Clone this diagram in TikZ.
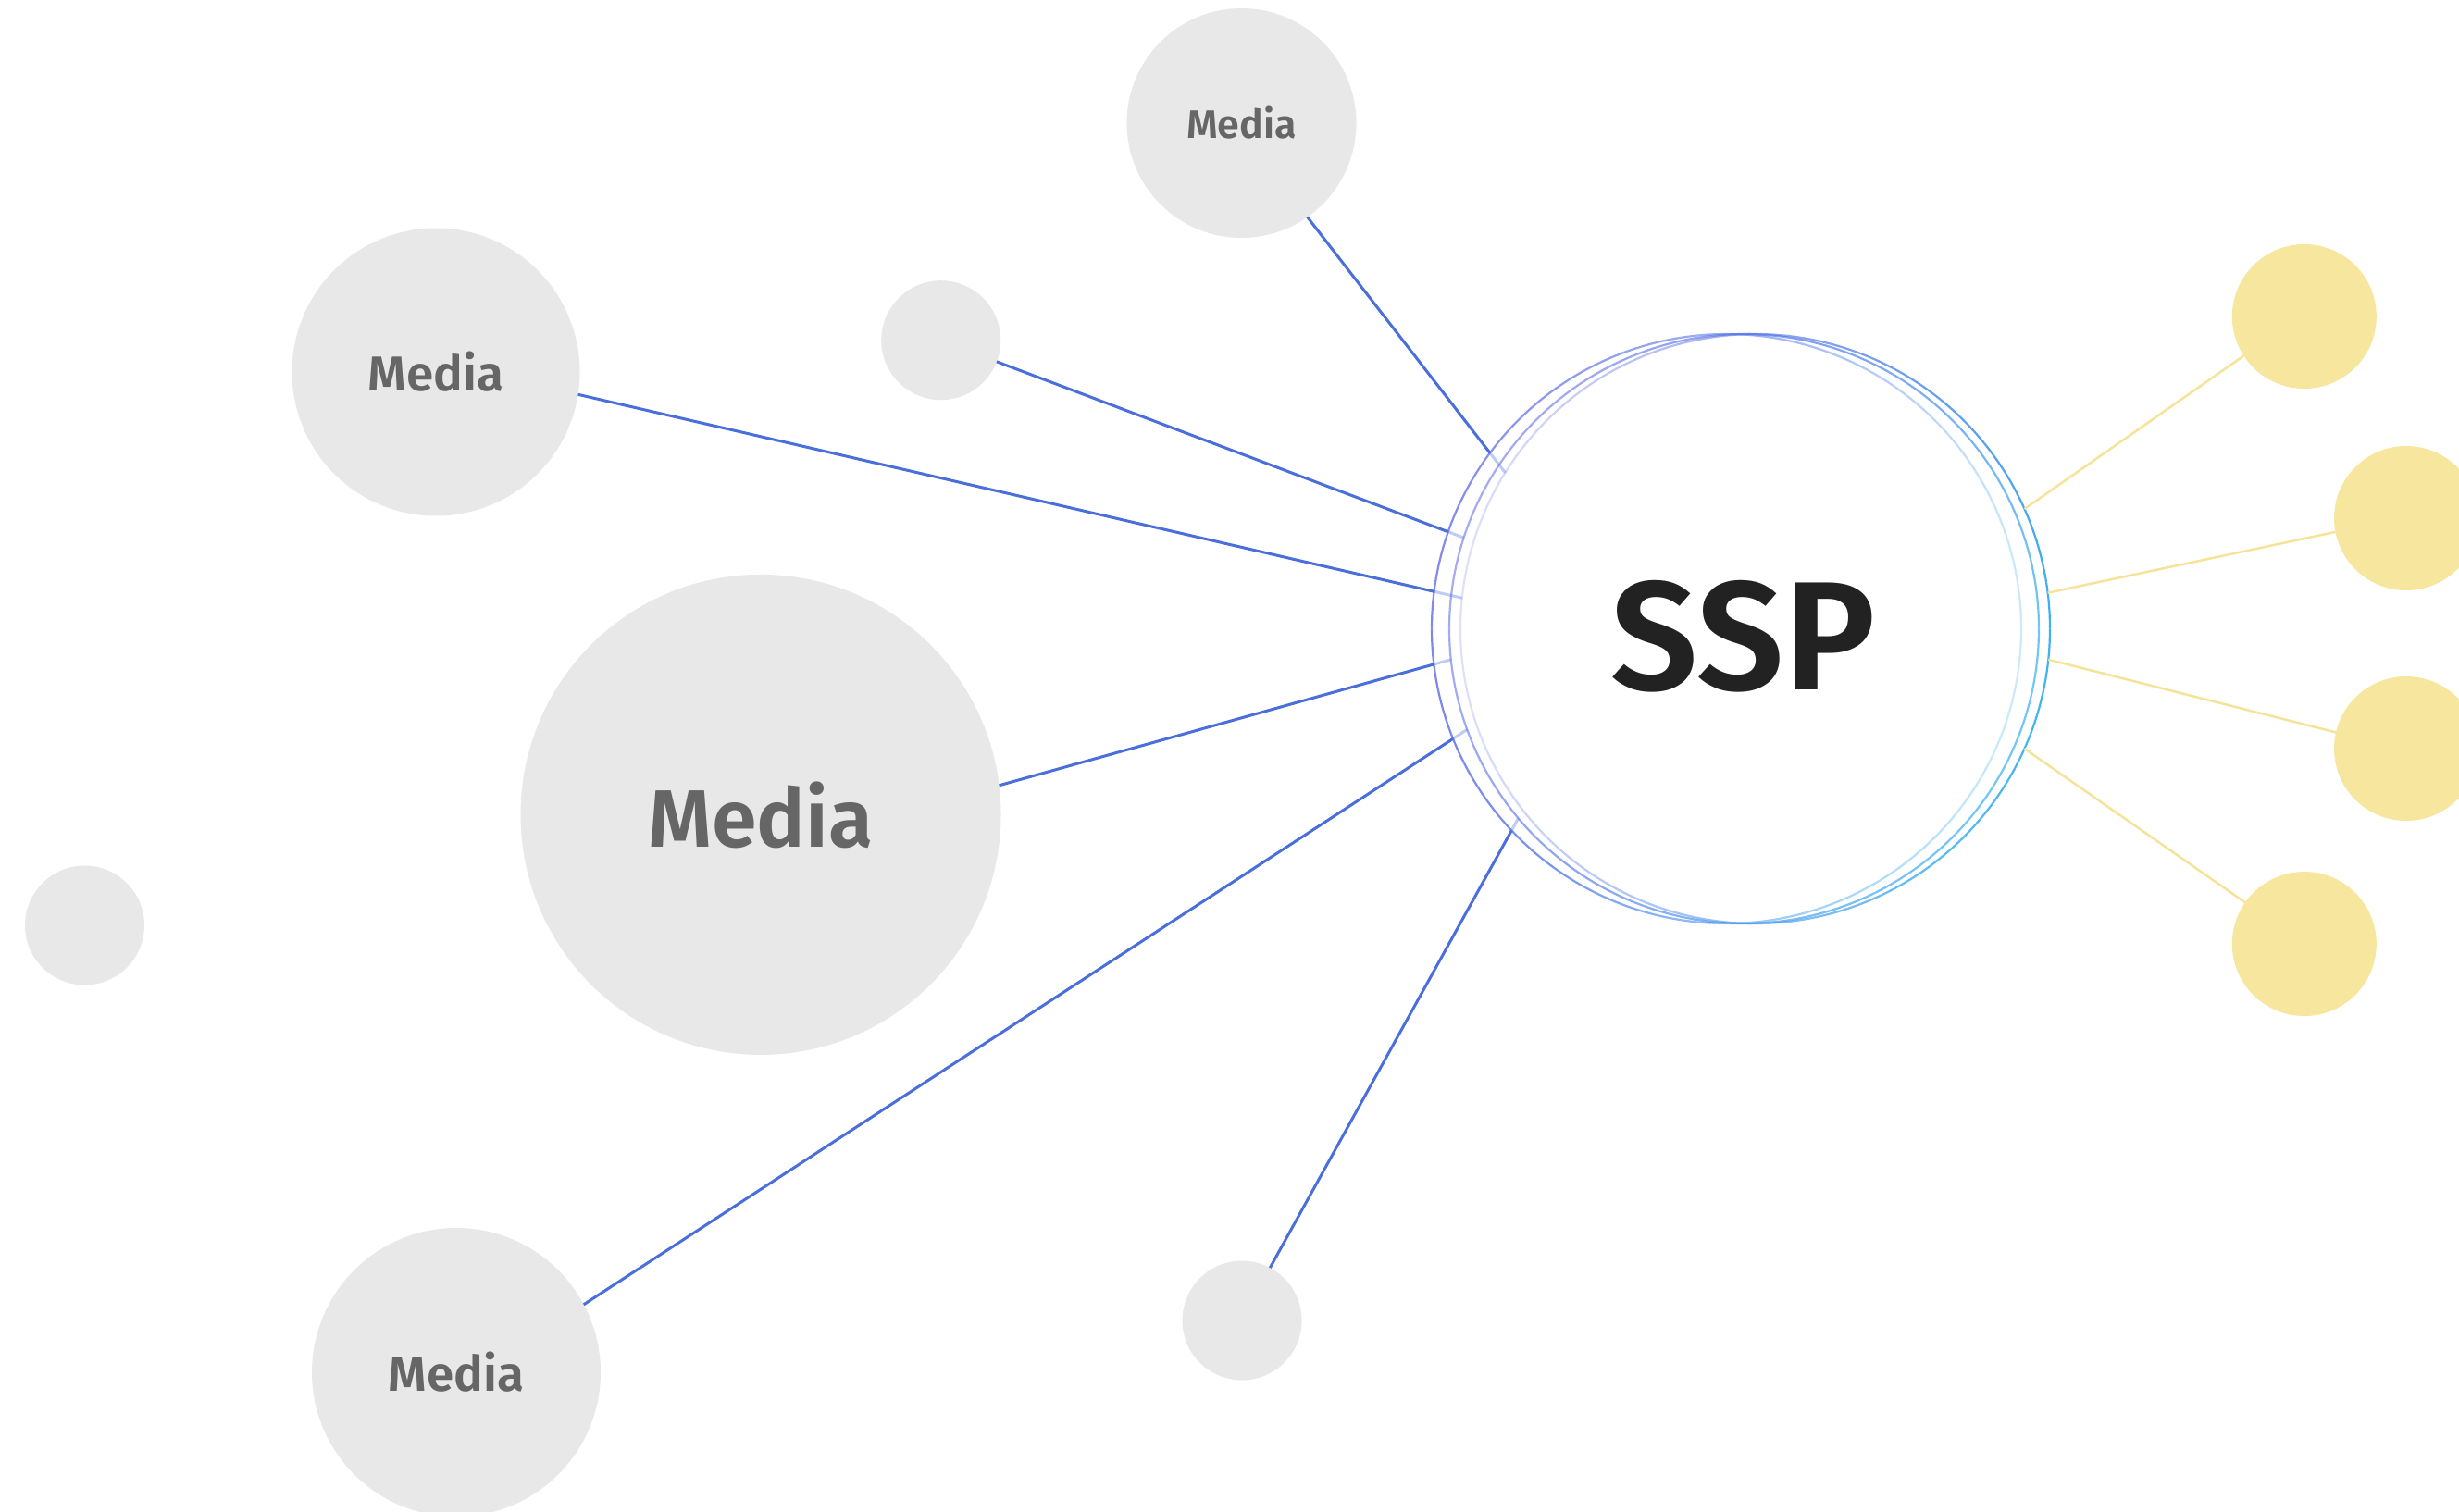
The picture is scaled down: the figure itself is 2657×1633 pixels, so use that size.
\documentclass[tikz,border=0pt]{standalone}
\usepackage{fontspec}
\setmainfont{Fira Sans}[BoldFont={Fira Sans SemiBold}]
\usetikzlibrary{intersections}
\definecolor{mediagray}{HTML}{E8E8E8}
\definecolor{mediatext}{HTML}{666666}
\definecolor{ssptext}{HTML}{222222}
\definecolor{linkblue}{HTML}{4A6FDB}
\definecolor{ylw}{HTML}{F7E69E}
\definecolor{ylwline}{HTML}{F6E39A}
\definecolor{rpur}{HTML}{7C78E4}
\definecolor{rblu}{HTML}{4A6EE8}
\definecolor{rcyn}{HTML}{2EC2F4}
\tikzset{
  media/.style={circle, fill=mediagray, draw=none, inner sep=0pt, outer sep=0pt, text=mediatext},
  yel/.style={circle, fill=ylw, draw=none, inner sep=0pt, outer sep=0pt, minimum size=156pt},
  ringnode/.style={circle, draw=none, inner sep=0pt, outer sep=0pt, minimum size=637pt},
  bluelink/.style={draw=linkblue, line width=3pt},
  bluefade/.style={draw=linkblue, line width=3pt, draw opacity=0.35},
  ylink/.style={draw=ylwline, line width=2.5pt},
  fsmall/.style={font=\bfseries\fontsize{43}{43}\selectfont},
  fmid/.style={font=\bfseries\fontsize{53}{53}\selectfont},
  fbig/.style={font=\bfseries\fontsize{88}{88}\selectfont},
}
\begin{document}
\begin{tikzpicture}[x=1pt,y=-1pt]
\useasboundingbox (0,0) rectangle (2657,1633);
\clip (0,0) rectangle (2657,1633);
\fill[white] (0,0) rectangle (2657,1633);

% media circles
\node[media, fsmall, minimum size=248pt] (mtop) at (1341.5,133) {Media};
\node[media, fmid, minimum size=311pt] (mleft) at (471,402) {Media};
\node[media, minimum size=129pt] (stop) at (1016.7,367.7) {};
\node[media, fbig, minimum size=519pt] (mbig) at (822,880.4) {Media};
\node[media, minimum size=129pt] (sleft) at (91.5,1000) {};
\node[media, fmid, minimum size=312pt] (mbot) at (493,1483) {Media};
\node[media, minimum size=129pt] (sbot) at (1342,1427) {};

% yellow circles
\node[yel] (y1) at (2489.8,342) {};
\node[yel] (y2) at (2600,560) {};
\node[yel] (y3) at (2600,809) {};
\node[yel] (y4) at (2489.8,1020) {};

% SSP rings
\node[ringnode] (ringA) at (1865.5,679.5) {};
\node[ringnode] (ringB) at (1884.5,679.5) {};
\node[ringnode] (ringC) at (1896.5,679.5) {};
\path[name path=ringApath] (1865.5,679.5) circle[radius=318.5];

\foreach \cx/\oa/\ob in {1865.5/0.55/-0.30, 1884.5/0.65/0.05, 1896.5/0.58/0.37}{
  \foreach \a in {0,3,...,357}{
    \pgfmathsetmacro\mm{\a+1.5}
    \pgfmathsetmacro\tt{0.5+0.35*cos(\mm)+0.15*sin(\mm)}
    \pgfmathtruncatemacro\pp{min(100,250*\tt)}
    \pgfmathtruncatemacro\qq{max(0,(\tt-0.4)*166.67)}
    \pgfmathsetmacro\op{\oa+\ob*cos(\mm)}
    \draw[line width=2.2pt, draw=rcyn!\qq!rblu!\pp!rpur, draw opacity=\op]
      (\cx,679.5) ++(\a:318.5) arc[start angle=\a, end angle=\a+3, radius=318.5];
  }
}

\node[font=\bfseries\fontsize{167}{167}\selectfont, text=ssptext, inner sep=0pt] (ssp) at (1884,687.5) {SSP};

% blue connectors
\foreach \m/\ma/\rg/\ra/\i in {mtop/-55.8/ringC/148.5/1, stop/-21.2/ringB/162.2/2, mleft/-9.2/ringC/174.1/3, mbig/7.3/ringB/186.8/4, mbot/28.3/ringB/200.7/5, sbot/62.1/ringB/220.7/6}{
  \path[name path=ln\i] (\m.\ma) -- (\rg.\ra);
  \path[name intersections={of=ringApath and ln\i, by=xx\i}];
  \draw[bluelink] (\m.\ma) -- (xx\i);
  \draw[bluefade] (xx\i) -- (\rg.\ra);
}

% yellow connectors
\draw[ylink] (ringC.24.7) -- (y1.213.6);
\draw[ylink] (ringC.7.3) -- (y2.191.4);
\draw[ylink] (ringC.-6.4) -- (y3.167.2);
\draw[ylink] (ringC.-24.7) -- (y4.145.4);
\end{tikzpicture}
\end{document}
